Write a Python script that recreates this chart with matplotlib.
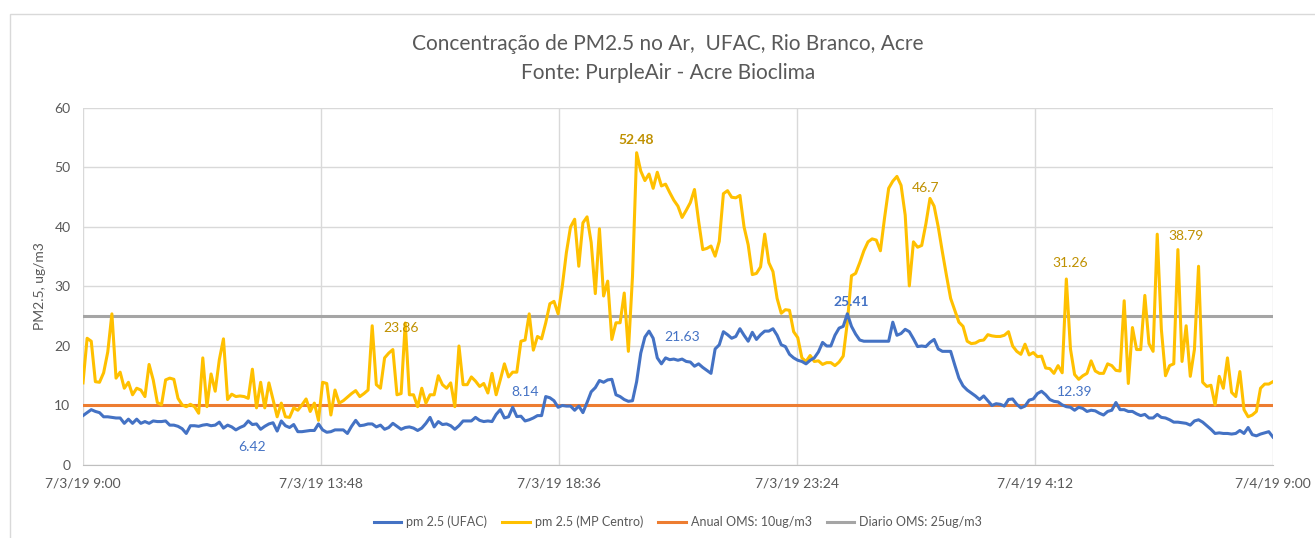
import numpy as np
import pandas as pd
import matplotlib
matplotlib.use('Agg')
import matplotlib.pyplot as plt
from matplotlib.patches import Rectangle

plt.rcParams['font.family'] = ['Lato', 'DejaVu Sans']

# dados a cada 5 minutos, 7/3/19 9:00 ate 7/4/19 9:00
tempo = pd.date_range('2019-07-03 09:00', '2019-07-04 09:00', freq='5min')

ufac = [
    8.3, 8.8, 9.3, 9.0, 8.8, 8.1, 8.1, 8.0, 7.9, 7.9, 7.0, 7.7,
    7.0, 7.7, 7.0, 7.3, 7.0, 7.4, 7.3, 7.3, 7.4, 6.7, 6.7, 6.5,
    6.1, 5.3, 6.6, 6.6, 6.5, 6.7, 6.8, 6.6, 6.7, 7.2, 6.2, 6.7,
    6.4, 5.9, 6.3, 6.6, 7.4, 6.8, 6.9, 6.0, 6.5, 6.9, 7.1, 5.7,
    7.4, 6.6, 6.3, 6.8, 5.6, 5.6, 5.7, 5.8, 5.8, 6.9, 5.9, 5.5,
    5.6, 5.9, 5.9, 5.9, 5.3, 6.5, 7.5, 6.6, 6.7, 6.9, 6.9, 6.4,
    6.7, 6.0, 6.3, 7.0, 6.5, 6.0, 6.3, 6.4, 6.2, 5.8, 6.2, 7.0,
    8.0, 6.4, 7.3, 6.8, 6.9, 6.6, 6.0, 6.6, 7.4, 7.4, 7.4, 8.0,
    7.5, 7.3, 7.4, 7.3, 8.5, 9.3, 7.9, 8.1, 9.7, 8.14, 8.2, 7.4,
    7.6, 7.9, 8.3, 8.3, 11.5, 11.3, 10.8, 9.7, 10.0, 9.9, 9.9, 9.2,
    9.9, 8.8, 10.5, 12.3, 13.0, 14.2, 13.9, 14.3, 14.4, 11.8, 11.5, 11.0,
    10.7, 10.8, 14.0, 18.8, 21.5, 22.5, 21.3, 18.0, 17.0, 18.0, 17.7, 17.8,
    17.6, 17.8, 17.4, 17.3, 16.6, 17.0, 16.4, 15.9, 15.4, 19.5, 20.2, 22.4,
    21.9, 21.3, 21.6, 22.9, 21.8, 20.8, 22.3, 21.1, 21.9, 22.5, 22.5, 22.9,
    21.8, 20.2, 19.9, 18.6, 18.0, 17.6, 17.4, 17.0, 17.6, 18.0, 19.0, 20.6,
    20.0, 20.0, 21.8, 23.0, 23.3, 25.41, 23.3, 22.0, 21.0, 20.8, 20.8, 20.8,
    20.8, 20.8, 20.8, 20.8, 24.0, 21.8, 22.1, 22.8, 22.4, 21.2, 19.9, 20.0,
    19.9, 20.6, 21.1, 19.5, 19.1, 19.1, 19.1, 16.8, 14.6, 13.3, 12.6, 12.1,
    11.6, 11.0, 11.6, 10.8, 10.0, 10.3, 10.2, 9.9, 11.0, 11.1, 10.2, 9.6,
    9.9, 10.9, 11.1, 12.0, 12.39, 11.8, 11.0, 10.7, 10.6, 10.1, 9.8, 9.7,
    9.2, 9.7, 9.5, 9.0, 9.2, 9.1, 8.7, 8.4, 9.0, 9.2, 10.5, 9.3,
    9.3, 9.0, 9.0, 8.6, 8.3, 8.5, 7.9, 7.9, 8.5, 8.0, 7.9, 7.6,
    7.2, 7.2, 7.1, 7.0, 6.7, 7.4, 7.6, 7.2, 6.6, 6.0, 5.3, 5.4,
    5.3, 5.3, 5.2, 5.3, 5.8, 5.3, 6.3, 5.1, 4.9, 5.2, 5.4, 5.6,
    4.7,
]

mp_centro = [
    13.8, 21.3, 20.8, 14.0, 13.9, 15.5, 19.0, 25.4, 14.6, 15.6, 12.9, 13.9,
    11.8, 12.9, 12.6, 11.5, 16.9, 14.3, 10.5, 10.1, 14.3, 14.6, 14.4, 11.2,
    10.1, 9.8, 10.2, 9.8, 8.7, 18.0, 9.8, 15.3, 12.4, 17.7, 21.2, 11.0,
    11.9, 11.5, 11.6, 11.5, 11.2, 16.1, 9.6, 13.9, 9.6, 13.8, 11.0, 8.1,
    10.4, 8.1, 8.0, 9.6, 9.2, 10.1, 11.1, 9.0, 10.4, 7.5, 13.9, 13.7,
    8.4, 12.6, 10.4, 10.8, 11.4, 12.0, 12.5, 11.5, 12.0, 12.6, 23.4, 13.5,
    12.9, 18.0, 18.8, 19.4, 11.8, 12.0, 23.86, 11.8, 11.8, 9.8, 12.9, 10.4,
    11.8, 11.8, 15.0, 13.5, 12.9, 13.8, 9.8, 20.0, 13.5, 13.5, 14.8, 14.1,
    13.2, 13.7, 12.1, 15.4, 11.8, 14.3, 17.0, 14.8, 15.6, 15.6, 20.8, 21.0,
    25.4, 19.3, 21.6, 21.2, 23.9, 27.1, 27.5, 25.4, 30.0, 35.7, 40.0, 41.3,
    33.4, 40.7, 41.7, 37.4, 28.8, 39.7, 28.4, 30.9, 21.1, 23.9, 23.9, 28.9,
    19.1, 31.7, 52.48, 49.4, 47.8, 48.9, 46.5, 49.2, 46.9, 47.2, 45.8, 44.5,
    43.5, 41.6, 42.8, 44.1, 46.3, 41.0, 36.2, 36.4, 36.8, 35.1, 37.6, 45.6,
    46.1, 45.0, 44.9, 45.3, 40.0, 37.0, 32.0, 32.2, 33.3, 38.8, 34.0, 32.5,
    28.0, 25.5, 26.1, 26.0, 22.4, 21.4, 18.0, 17.4, 18.4, 17.4, 17.5, 16.9,
    17.2, 17.2, 16.7, 17.3, 18.3, 24.0, 31.8, 32.2, 34.0, 36.0, 37.5, 38.0,
    37.8, 36.0, 41.5, 46.5, 47.7, 48.5, 47.0, 42.0, 30.1, 37.5, 36.6, 36.9,
    40.5, 44.8, 43.5, 40.0, 35.8, 31.8, 28.0, 26.0, 24.0, 23.3, 20.8, 20.4,
    20.5, 20.9, 21.0, 21.9, 21.7, 21.6, 21.6, 21.8, 22.4, 20.0, 19.1, 18.6,
    20.3, 18.5, 18.9, 18.2, 18.3, 16.3, 16.2, 15.4, 16.7, 15.5, 31.26, 19.5,
    15.2, 14.4, 15.0, 15.4, 17.5, 15.8, 15.4, 15.4, 17.0, 16.7, 15.9, 15.8,
    27.6, 13.7, 23.1, 19.4, 19.4, 28.5, 20.4, 19.1, 38.79, 22.8, 15.0, 16.7,
    17.0, 36.2, 17.4, 23.4, 14.9, 19.4, 33.4, 13.9, 13.2, 13.4, 10.1, 14.9,
    12.9, 18.0, 12.2, 11.5, 15.7, 9.3, 8.1, 8.4, 9.0, 12.9, 13.6, 13.6,
    14.0,
]

anual_oms = 10
diario_oms = 25

ticks = pd.date_range('2019-07-03 09:00', periods=6, freq='288min')
tick_labels = ['7/3/19 9:00', '7/3/19 13:48', '7/3/19 18:36',
               '7/3/19 23:24', '7/4/19 4:12', '7/4/19 9:00']

azul = '#4472C4'
amarelo = '#FFC000'
laranja = '#ED7D31'
cinza = '#A5A5A5'
rotulo_am = '#BF9000'

fig = plt.figure(figsize=(13.15, 5.38), dpi=100)
ax = fig.add_axes([0.0631, 0.1357, 0.9049, 0.6636])

ax.plot(tempo, ufac, color=azul, lw=2.2, label='pm 2.5 (UFAC)', zorder=4)
ax.plot(tempo, mp_centro, color=amarelo, lw=2.2, label='pm 2.5 (MP Centro)', zorder=3)
ax.plot(tempo, np.full(len(tempo), anual_oms), color=laranja, lw=2.2,
        label='Anual OMS: 10ug/m3', zorder=2)
ax.plot(tempo, np.full(len(tempo), diario_oms), color=cinza, lw=2.2,
        label='Diario OMS: 25ug/m3', zorder=2)

ax.set_xlim(tempo[0], tempo[-1])
ax.set_ylim(0, 60)
ax.set_yticks(range(0, 61, 10))
ax.set_xticks(ticks)
ax.set_xticklabels(tick_labels)
ax.grid(True, color='#D9D9D9', lw=1)
ax.set_axisbelow(True)
for s in ['top', 'right', 'left']:
    ax.spines[s].set_visible(False)
ax.spines['bottom'].set_color('#BFBFBF')
ax.tick_params(length=0, labelsize=10, colors='#595959')
ax.tick_params(axis='x', pad=9)
ax.tick_params(axis='y', pad=9)
ax.set_ylabel('PM2.5, ug/m3', fontsize=10, color='#595959', labelpad=6)

# rotulos de dados
def rot(i, texto, y, cor, bold=False):
    ax.text(tempo[i], y, texto, ha='center', va='center', fontsize=10,
            color=cor, fontweight='bold' if bold else 'normal', zorder=6)

rot(41, '6.42', 3.0, azul)
rot(77, '23.86', 23.0, rotulo_am)
rot(134, '52.48', 54.6, rotulo_am, bold=True)
rot(145, '21.63', 21.5, azul)
rot(186, '25.41', 27.4, azul, bold=True)
rot(204, '46.7', 46.5, rotulo_am)
rot(239, '31.26', 34.0, rotulo_am)
rot(240, '12.39', 12.3, azul)
rot(267, '38.79', 38.5, rotulo_am)
ax.annotate('8.14', xy=(tempo[104], ufac[104]),
            xytext=(tempo[107], 12.3),
            ha='center', va='center', fontsize=10, color=azul,
            arrowprops=dict(arrowstyle='-', color='#A6A6A6', lw=0.8,
                            shrinkA=6, shrinkB=0))

fig.text(0.508, 1 - 44 / 538, 'Concentração de PM2.5 no Ar,  UFAC, Rio Branco, Acre',
         ha='center', va='center', fontsize=15, color='#595959')
fig.text(0.508, 1 - 73 / 538, 'Fonte: PurpleAir - Acre Bioclima',
         ha='center', va='center', fontsize=15, color='#595959')

ax.legend(loc='upper center', bbox_to_anchor=(0.5, -0.11), ncol=4, frameon=False,
          fontsize=9, labelcolor='#595959', handlelength=2.2, columnspacing=1.2,
          handletextpad=0.4)

fig.add_artist(Rectangle((10 / 1315, -0.01), 1.0, 0.984, transform=fig.transFigure,
                         fill=False, ec='#D9D9D9', lw=1))

fig.savefig('out.png', dpi=100)
